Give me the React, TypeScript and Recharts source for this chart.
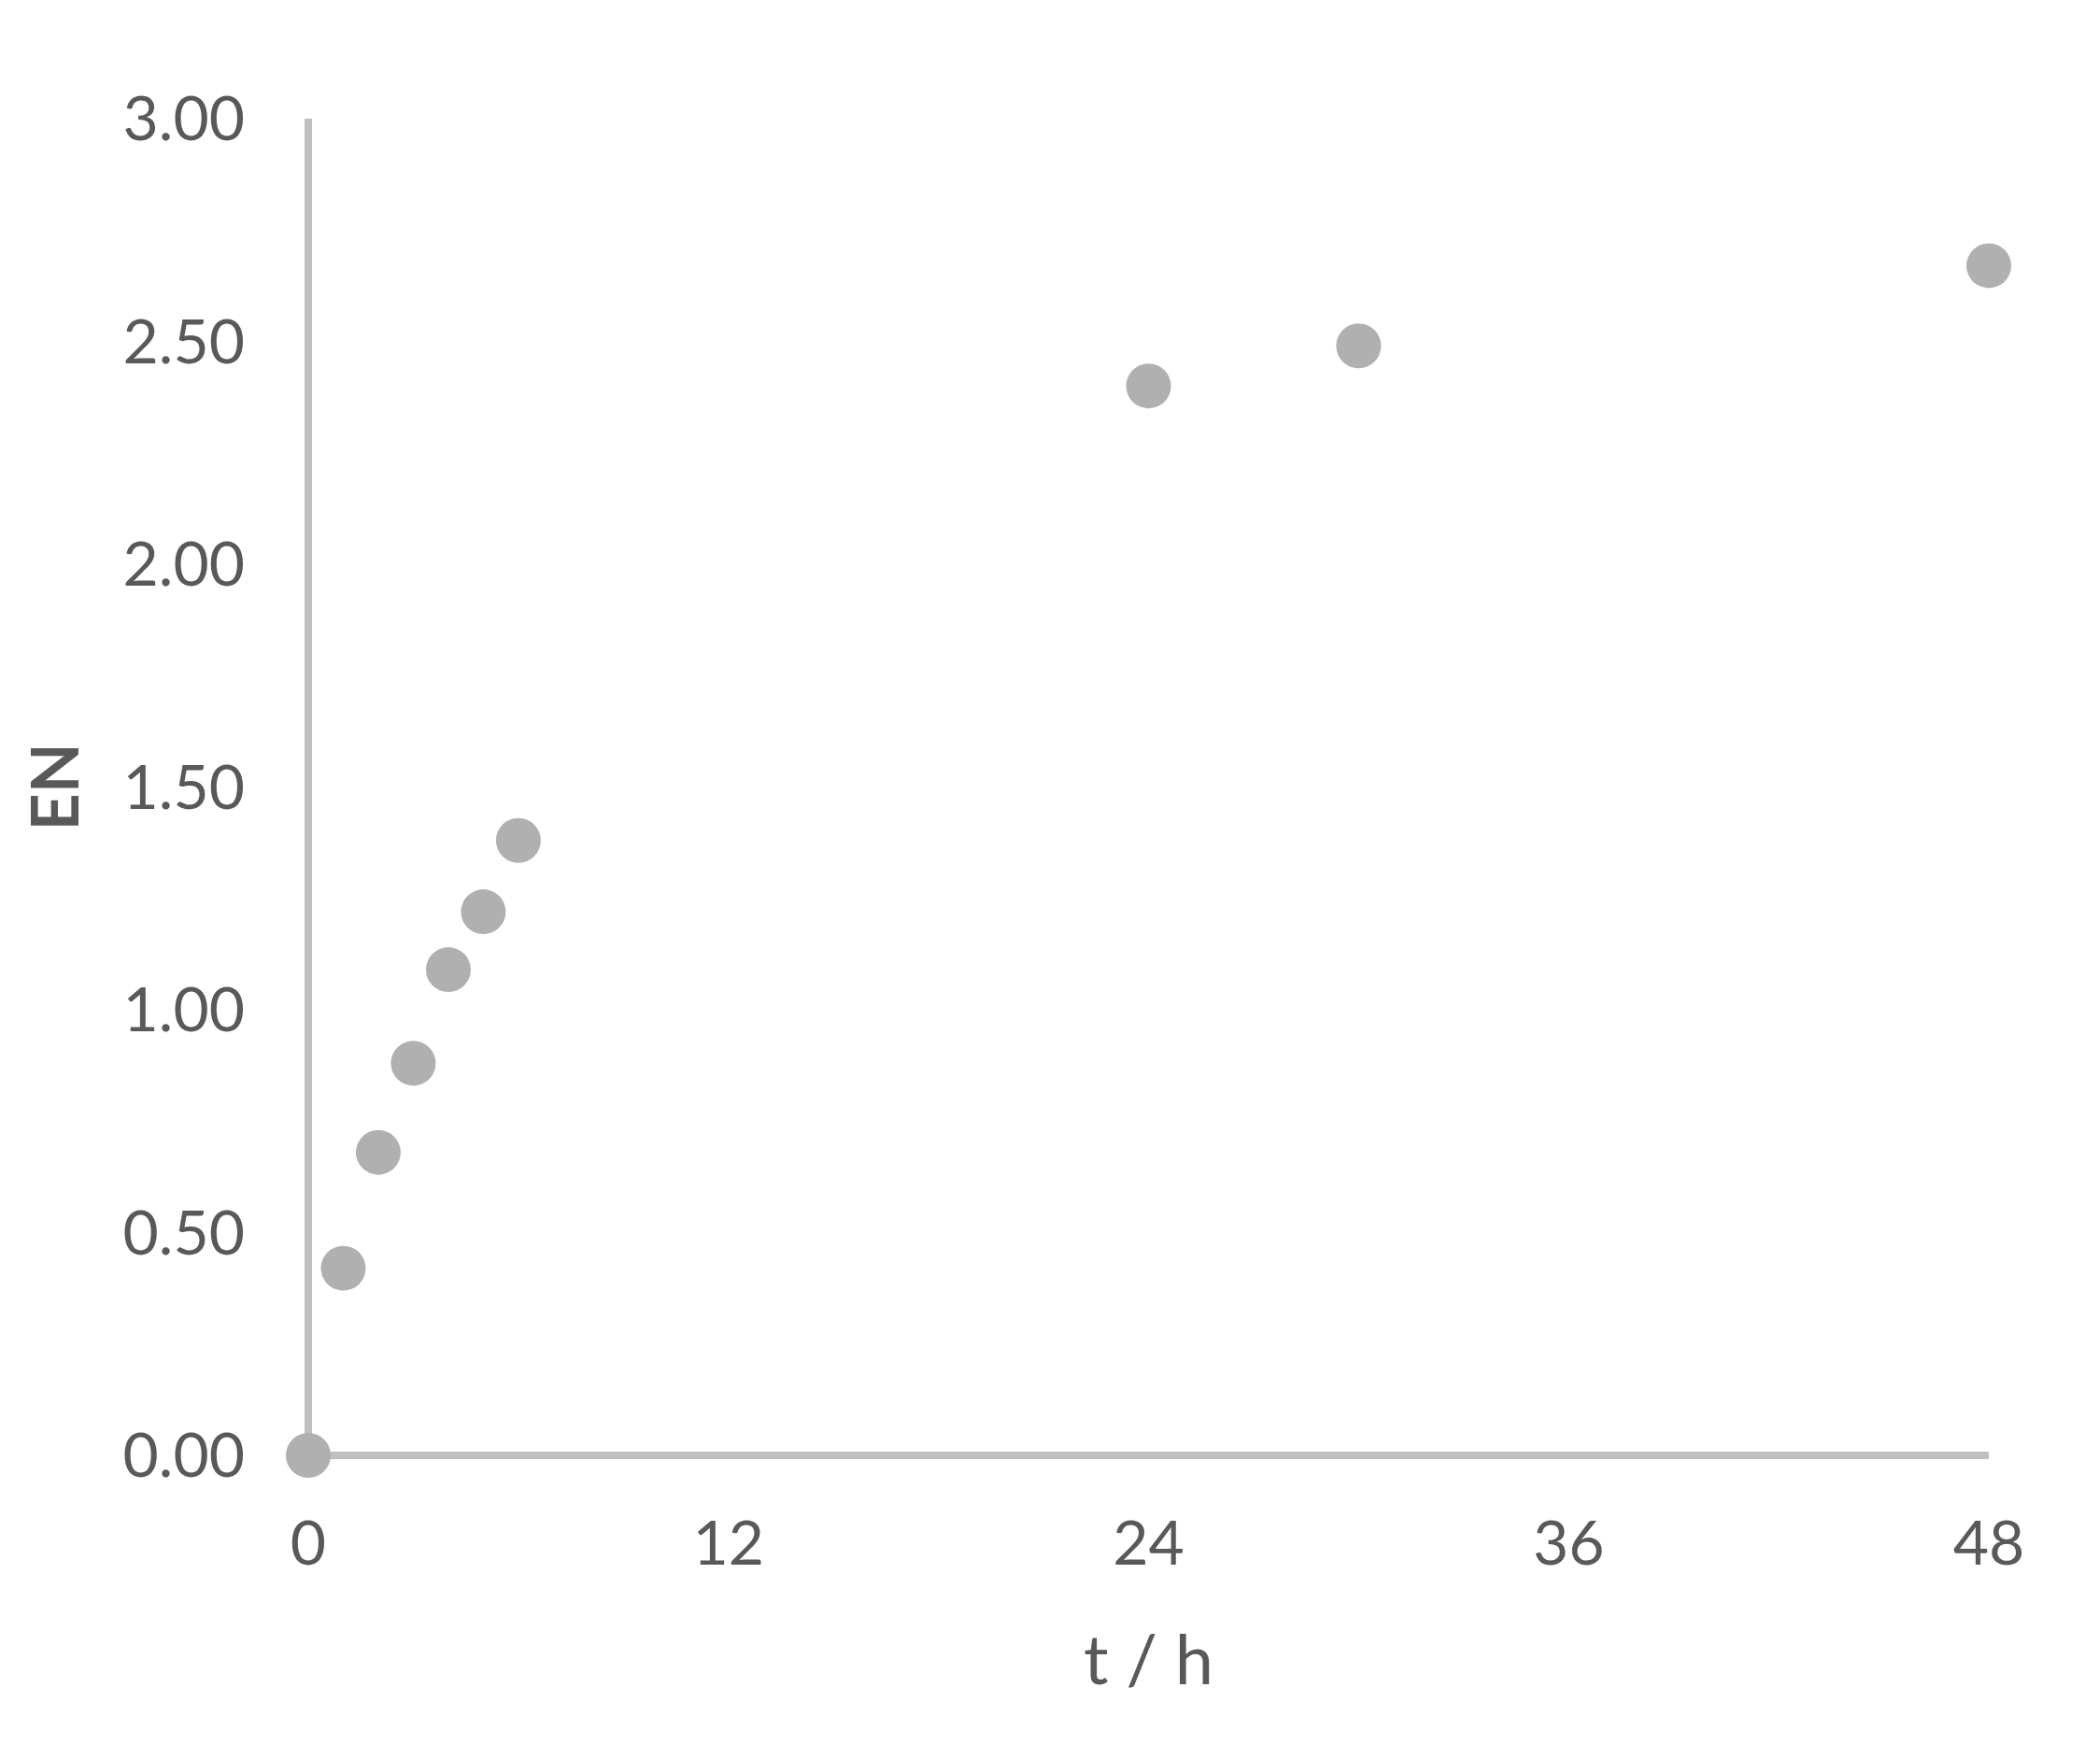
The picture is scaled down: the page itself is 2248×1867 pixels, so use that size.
import React from 'react';
import { ScatterChart, Scatter, XAxis, YAxis, Label } from 'recharts';

const timeHours = [0, 1, 2, 3, 4, 5, 6, 24, 30, 48];
const enValues = [0, 0.42, 0.68, 0.88, 1.09, 1.22, 1.38, 2.40, 2.49, 2.67];
const xTicks = [0, 12, 24, 36, 48];
const yTicks = [0, 0.5, 1, 1.5, 2, 2.5, 3];
const xTitle = 't / h';
const yTitle = 'EN';

const data = timeHours.map((t, i) => ({ t, en: enValues[i] }));

const FONT = 'Lato, "Open Sans", sans-serif';
const TEXT = '#595959';
const AXIS = '#bfbfbf';

const Dot = (props: any) => (
  <circle cx={props.cx} cy={props.cy} r={24} fill="#b0b0b0" />
);

export default function App() {
  return (
    <div style={{ position: 'absolute', left: 0, top: 0, width: 2248, height: 1867, background: '#fff' }}>
      <ScatterChart width={2248} height={1867} margin={{ top: 127, right: 119, bottom: 0, left: 0 }}>
        <XAxis
          type="number"
          dataKey="t"
          domain={[0, 48]}
          ticks={xTicks}
          height={309}
          tickLine={false}
          tickSize={0}
          tickMargin={70}
          axisLine={{ stroke: AXIS, strokeWidth: 8 }}
          tick={{ fill: TEXT, fontSize: 66, fontFamily: FONT }}
          interval={0}
        >
          <Label
            content={(p: any) => {
              const vb = p.viewBox;
              return (
                <text
                  x={vb.x + vb.width / 2}
                  y={vb.y + 245}
                  textAnchor="middle"
                  fill={TEXT}
                  fontSize={74}
                  fontFamily={FONT}
                >
                  {xTitle}
                </text>
              );
            }}
          />
        </XAxis>
        <YAxis
          type="number"
          dataKey="en"
          domain={[0, 3]}
          ticks={yTicks}
          width={330}
          tickLine={false}
          tickSize={0}
          tickMargin={68}
          axisLine={{ stroke: AXIS, strokeWidth: 8 }}
          tick={{ fill: TEXT, fontSize: 66, fontFamily: FONT }}
          tickFormatter={(v: number) => v.toFixed(2)}
          interval={0}
        >
          <Label
            content={(p: any) => {
              const vb = p.viewBox;
              const cy = vb.y + vb.height / 2;
              return (
                <text
                  x={57}
                  y={cy}
                  textAnchor="middle"
                  dominantBaseline="central"
                  transform={`rotate(-90, 57, ${cy})`}
                  fill={TEXT}
                  fontSize={70}
                  fontWeight="bold"
                  fontFamily={FONT}
                >
                  {yTitle}
                </text>
              );
            }}
          />
        </YAxis>
        <Scatter data={data} shape={Dot} isAnimationActive={false} />
      </ScatterChart>
    </div>
  );
}
